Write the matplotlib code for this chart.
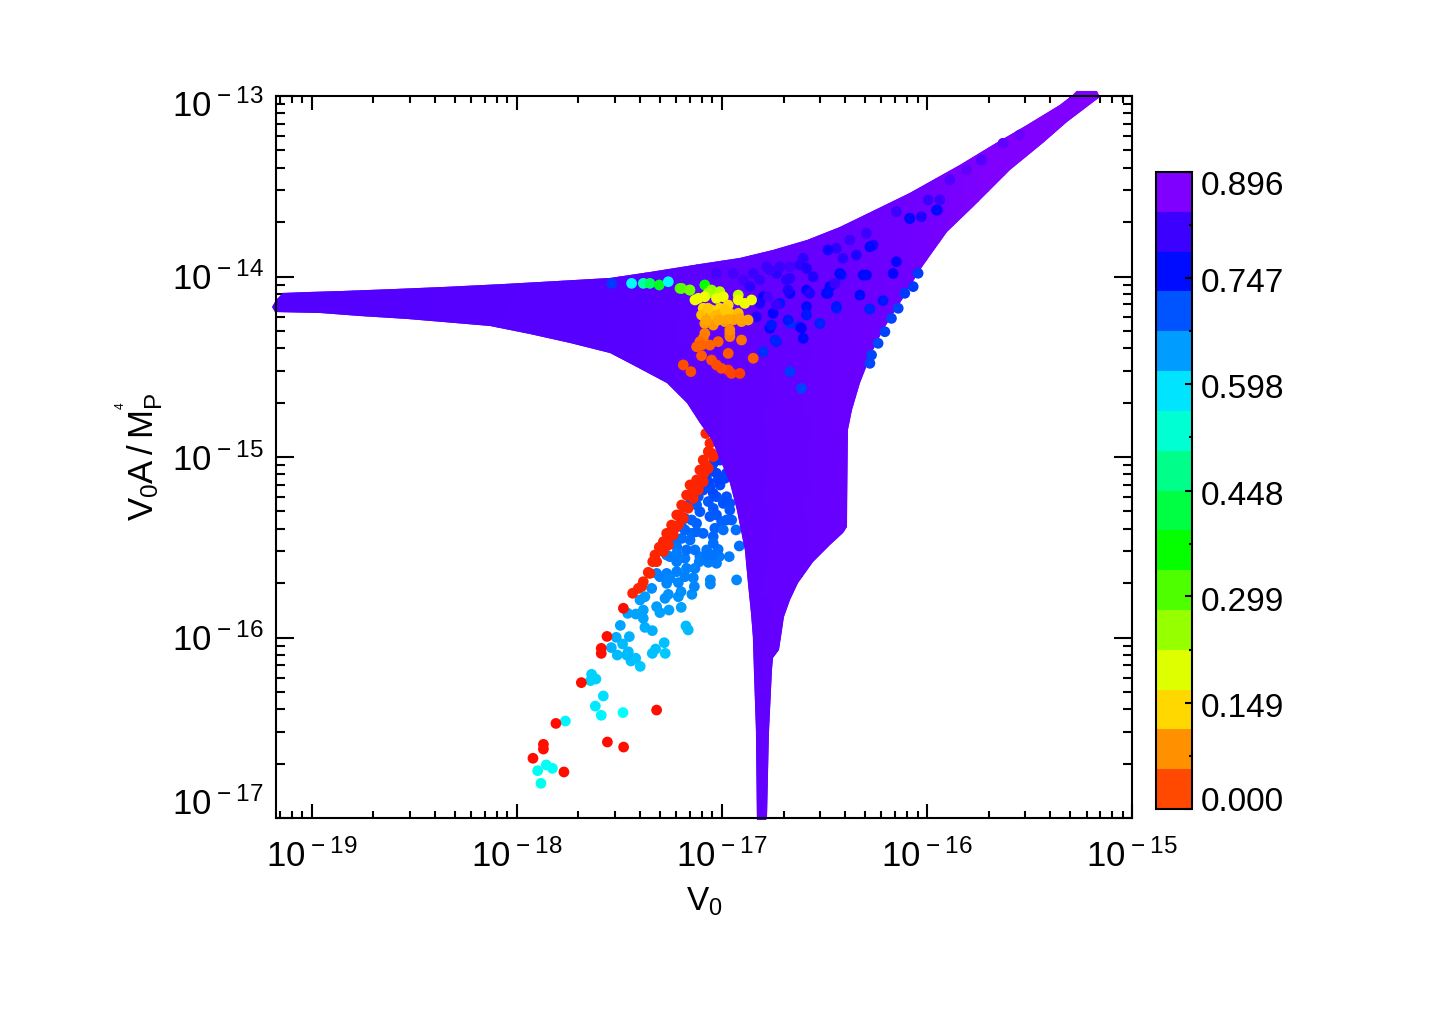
import colorsys
import numpy as np
import matplotlib
matplotlib.use("Agg")
import matplotlib.pyplot as plt
from matplotlib.colors import ListedColormap, BoundaryNorm, Normalize
from matplotlib.cm import ScalarMappable
from matplotlib.transforms import ScaledTranslation

plt.rcParams['font.family'] = ['Liberation Sans', 'DejaVu Sans']
plt.rcParams['mathtext.fontset'] = 'custom'
plt.rcParams['mathtext.rm'] = 'Liberation Sans'
plt.rcParams['mathtext.default'] = 'regular'

# all positions are log10 of the plotted quantity
# outline of the densely filled region
outline_x = [-19.192, -19.173, -19.139, -19.017, -18.847, -18.593, -18.359, -18.067, -17.804, -17.545,
             -17.350, -17.107, -16.912, -16.751, -16.585, -16.425, -16.264, -16.084, -15.840, -15.679,
             -15.513, -15.353, -15.289, -15.270, -15.172, -15.158,
             -15.318, -15.435, -15.596, -15.777, -15.903, -16.001, -16.035, -16.132, -16.215, -16.264,
             -16.327, -16.366, -16.386, -16.391, -16.410, -16.473, -16.556, -16.629, -16.668, -16.698,
             -16.712, -16.722, -16.751, -16.756, -16.771, -16.780, -16.785,
             -16.829, -16.834, -16.844, -16.849, -16.858, -16.873, -16.888, -16.927, -16.961, -17.048,
             -17.107, -17.170, -17.268, -17.433, -17.545, -17.740, -17.935, -18.130, -18.359, -18.535,
             -18.764, -18.959, -19.178]
outline_y = [-14.169, -14.130, -14.091, -14.086, -14.080, -14.069, -14.058, -14.042, -14.025, -14.008,
             -13.975, -13.931, -13.897, -13.853, -13.798, -13.726, -13.637, -13.537, -13.382, -13.271,
             -13.161, -13.050, -12.994, -12.972, -12.972, -13.006,
             -13.144, -13.260, -13.410, -13.615, -13.753, -13.909, -13.964, -14.147, -14.296, -14.407,
             -14.590, -14.740, -14.850, -15.388, -15.421, -15.487, -15.582, -15.698, -15.792, -15.886,
             -15.997, -16.069, -16.113, -16.180, -16.529, -17.000, -17.011,
             -17.011, -16.512, -16.180, -15.997, -15.864, -15.698, -15.515, -15.294, -15.144, -14.906,
             -14.812, -14.701, -14.590, -14.490, -14.424, -14.368, -14.319, -14.274, -14.252, -14.235,
             -14.219, -14.202, -14.197]
# value inside the filled region drifts slowly along the horizontal axis
fill_x = [-19.3, -17.5, -17.0, -16.4, -16.0, -15.7, -15.1]
fill_z = [0.858, 0.862, 0.870, 0.875, 0.885, 0.893, 0.897]
fill_y = [-17.1, -12.9]

red_x = [-17.318, -17.558, -17.479, -17.770, -17.921, -17.870, -17.870, -17.809, -17.685, -17.588,
         -17.588, -17.560, -17.480, -17.435, -17.407, -17.383, -17.359, -17.337, -17.326, -17.305,
         -17.285, -17.269, -17.245, -17.220, -17.196, -17.172, -17.155, -17.123, -17.107, -17.091,
         -17.066, -17.058, -17.253, -17.229, -17.204, -17.180, -17.142, -17.115, -17.087, -17.078,
         -17.048, -17.078,
         -17.391, -17.351, -17.318, -17.285, -17.261, -17.237, -17.212, -17.188, -17.164, -17.139,
         -17.115, -17.091, -17.066, -17.042]
red_y = [-16.402, -16.579, -16.607, -16.745, -16.669, -16.592, -16.618, -16.476, -16.250, -16.060,
         -16.088, -15.994, -15.838, -15.755, -15.728, -15.691, -15.639, -15.580, -15.543, -15.500,
         -15.469, -15.423, -15.377, -15.321, -15.266, -15.211, -15.155, -15.127, -15.072, -15.017,
         -14.970, -14.924, -15.441, -15.395, -15.321, -15.275, -15.192, -15.164, -15.090, -15.044,
         -14.980, -14.870,
         -15.718, -15.645, -15.580, -15.524, -15.488, -15.432, -15.377, -15.340, -15.284, -15.229,
         -15.183, -15.137, -15.063, -14.998]
red_z = [0.012] * 13 + [0.03] * 43

wedge_x = [-17.882, -17.898, -17.856, -17.826, -17.763, -17.588, -17.482, -17.617, -17.578, -17.635,
           -17.640, -17.614, -17.398, -17.443, -17.420, -17.464, -17.510, -17.484, -17.456, -17.539,
           -17.515, -17.451, -17.495, -17.375, -17.339, -17.339, -17.323, -17.276, -17.281, -17.175,
           -17.164, -17.459, -17.419, -17.383, -17.383, -17.399, -17.375, -17.318, -17.302, -17.258,
           -17.277, -17.261, -17.198, -17.212, -17.199, -17.146, -17.134, -17.139, -17.056, -17.056,
           -16.928, -17.342, -17.269, -17.212, -17.318, -17.269, -17.220, -17.172, -17.131, -17.110,
           -17.066, -17.026, -17.013, -16.964, -17.074, -17.018, -16.915, -17.180, -17.253, -17.220,
           -17.237, -17.196, -17.155, -17.147, -17.220, -17.042, -17.034, -17.001, -16.952, -16.931,
           -17.058, -17.155, -17.115, -17.066, -17.026, -16.977, -17.107, -17.058, -17.009, -16.961,
           -17.074, -17.026, -16.985, -17.042, -17.009, -16.977, -17.123, -17.180, -17.026, -17.123,
           -17.042,
           -17.034, -17.050, -17.018, -17.066, -17.091, -17.042, -16.993, -16.961, -17.107, -17.147,
           -17.180, -17.196, -17.091, -17.123, -16.993, -16.977, -17.042, -17.220, -17.269, -17.302,
           -17.253, -17.180, -17.107, -17.074, -17.042, -17.172, -17.131]
wedge_y = [-16.808, -16.738, -16.706, -16.725, -16.463, -16.431, -16.416, -16.380, -16.324, -16.204,
           -16.239, -16.230, -16.160, -16.130, -16.115, -16.097, -16.097, -16.036, -16.079, -16.056,
           -15.999, -15.995, -15.933, -15.944, -15.962, -16.088, -16.064, -16.088, -16.029, -15.936,
           -15.958, -15.866, -15.870, -15.894, -15.848, -15.792, -15.774, -15.829, -15.862, -15.848,
           -15.783, -15.761, -15.833, -15.774, -15.746, -15.761, -15.718, -15.669, -15.681, -15.704,
           -15.681, -15.728, -15.700, -15.696, -15.645, -15.645, -15.635, -15.617, -15.617, -15.580,
           -15.584, -15.589, -15.552, -15.552, -15.515, -15.512, -15.493, -15.561, -15.552, -15.580,
           -15.460, -15.451, -15.460, -15.423, -15.497, -15.441, -15.395, -15.358, -15.349, -15.404,
           -15.330, -15.257, -15.220, -15.247, -15.220, -15.220, -15.164, -15.164, -15.155, -15.257,
           -15.100, -15.090, -15.118, -15.035, -15.017, -15.090, -15.368, -15.404, -15.321, -15.266,
           -15.285,
           -14.998, -15.063, -15.127, -15.137, -15.183, -15.201, -15.257, -15.294, -15.303, -15.349,
           -15.340, -15.386, -15.423, -15.414, -15.404, -15.349, -15.478, -15.534, -15.543, -15.663,
           -15.672, -15.663, -15.552, -15.543, -15.543, -15.515, -15.515]
wedge_z = [0.582, 0.587, 0.59, 0.59, 0.605, 0.605, 0.598, 0.615, 0.62, 0.63,
           0.63, 0.63, 0.64, 0.645, 0.645, 0.65, 0.65, 0.65, 0.65, 0.655,
           0.66, 0.655, 0.665, 0.66, 0.66, 0.645, 0.645, 0.64, 0.645, 0.65,
           0.65, 0.67, 0.67, 0.665, 0.67, 0.675, 0.675, 0.675, 0.67, 0.67,
           0.68, 0.68, 0.67, 0.68, 0.685, 0.685, 0.69, 0.69, 0.69, 0.69,
           0.69, 0.685, 0.69, 0.69, 0.695, 0.695, 0.695, 0.695, 0.695, 0.7,
           0.7, 0.7, 0.7, 0.7, 0.705, 0.705, 0.71, 0.7, 0.7, 0.7,
           0.71, 0.71, 0.71, 0.71, 0.705, 0.715, 0.72, 0.72, 0.72, 0.71,
           0.725, 0.725, 0.73, 0.725, 0.73, 0.73, 0.735, 0.735, 0.735, 0.73,
           0.74, 0.74, 0.74, 0.745, 0.75, 0.74, 0.72, 0.715, 0.725, 0.725,
           0.725,
           0.75, 0.745, 0.74, 0.74, 0.735, 0.735, 0.73, 0.725, 0.725, 0.72,
           0.72, 0.715, 0.715, 0.715, 0.71, 0.72, 0.71, 0.7, 0.7, 0.695,
           0.69, 0.695, 0.7, 0.705, 0.705, 0.71, 0.705]

# low values near the top of the filled region
core_x = [-17.537, -17.440, -17.383, -17.351, -17.305, -17.261, -17.204, -17.156,
          -17.196, -17.156, -17.083, -17.050, -17.067, -17.010, -17.115, -17.083, -17.026, -16.920,
          -17.131, -16.993, -16.920, -16.888, -16.855, -17.091, -17.050, -17.010, -16.969, -17.099,
          -17.050, -17.002, -16.961, -16.920, -17.083, -17.042, -16.985, -16.945, -16.904, -16.872,
          -16.961, -17.083, -17.091, -17.107, -17.058, -17.018, -16.961, -16.904, -17.123, -17.099,
          -16.969, -17.050, -16.847, -17.026, -16.969, -16.953, -16.912, -17.151, -17.188, -17.002,
          -17.067, -16.985, -17.026, -17.075, -17.018, -16.969, -16.912, -17.099, -16.961]
core_y = [-14.038, -14.038, -14.038, -14.038, -14.047, -14.029, -14.066, -14.075,
          -14.066, -14.075, -14.047, -14.075, -14.093, -14.084, -14.121, -14.112, -14.121, -14.103,
          -14.130, -14.112, -14.130, -14.149, -14.130, -14.176, -14.186, -14.176, -14.158, -14.213,
          -14.223, -14.204, -14.204, -14.204, -14.260, -14.269, -14.250, -14.241, -14.250, -14.241,
          -14.315, -14.315, -14.343, -14.361, -14.380, -14.361, -14.333, -14.352, -14.389, -14.439,
          -14.426, -14.463, -14.453, -14.490, -14.518, -14.537, -14.537, -14.527, -14.490, -14.509,
          -14.176, -14.182, -14.213, -14.241, -14.241, -14.237, -14.232, -14.380, -14.296]
core_z = [0.75, 0.6, 0.53, 0.47, 0.42, 0.6, 0.35, 0.32,
          0.33, 0.31, 0.39, 0.29, 0.27, 0.26, 0.21, 0.21, 0.21, 0.25,
          0.21, 0.21, 0.21, 0.21, 0.21, 0.17, 0.17, 0.17, 0.17, 0.15,
          0.15, 0.15, 0.16, 0.15, 0.125, 0.12, 0.125, 0.125, 0.125, 0.13,
          0.105, 0.1, 0.095, 0.085, 0.08, 0.08, 0.1, 0.09, 0.08, 0.07,
          0.07, 0.065, 0.075, 0.06, 0.055, 0.055, 0.05, 0.06, 0.06, 0.06,
          0.16, 0.16, 0.145, 0.13, 0.13, 0.13, 0.13, 0.08, 0.11]

# bluer points in the right part of the filled region and along its edge
upper_x = [-16.043, -16.067, -16.108, -16.140, -16.173, -16.205, -16.238, -16.270, -16.278,
           -16.815, -16.733, -16.685, -16.620, -16.555, -16.668, -16.587, -16.490, -16.417, -16.449,
           -16.798, -16.717, -16.668, -16.620, -16.522, -16.278, -16.441, -16.750, -16.766, -16.741,
           -16.798, -16.668, -16.612, -16.603, -16.214, -16.327, -16.295, -16.165, -16.149, -16.782,
           -16.896, -16.587, -16.831, -16.945, -17.026,
           -15.994, -15.937, -15.946, -16.084, -16.149, -16.027, -16.295, -16.262, -16.376, -16.441,
           -16.482, -16.344, -16.409, -16.603, -16.668, -16.717, -16.587, -16.766, -16.425, -16.311,
           -16.473, -16.449, -16.668, -16.847, -16.863, -16.774, -16.677, -16.571, -16.733, -16.482,
           -16.441, -16.279, -16.587, -16.677, -16.522, -16.758, -16.733, -16.815, -16.612,
           -15.953, -16.083, -16.278, -15.734, -15.629, -15.547, -15.807, -15.888]
upper_y = [-13.982, -14.056, -14.093, -14.176, -14.232, -14.306, -14.370, -14.435, -14.481,
           -14.019, -13.983, -14.019, -13.936, -14.001, -14.093, -14.075, -14.093, -13.992, -14.038,
           -14.112, -14.149, -14.260, -14.278, -14.260, -14.182, -14.176, -14.204, -14.287, -14.352,
           -14.416, -14.527, -14.620, -14.343, -14.134, -14.103, -13.992, -13.983, -13.918, -13.946,
           -14.019, -14.167, -14.223, -13.983, -13.983,
           -13.576, -13.576, -13.632, -13.678, -13.641, -13.669, -13.761, -13.826, -13.798, -13.844,
           -13.853, -13.881, -13.899, -13.899, -13.946, -13.946, -13.955, -13.964, -13.983, -13.992,
           -14.056, -14.038, -14.010, -13.983, -14.056, -14.112, -14.075, -14.093, -14.158, -14.093,
           -14.167, -14.180, -14.213, -14.241, -14.260, -14.269, -14.361, -14.149, -14.287,
           -13.632, -13.678, -13.835, -13.355, -13.262, -13.216, -13.410, -13.465]
upper_z = [0.75, 0.75, 0.75, 0.745, 0.745, 0.745, 0.74, 0.74, 0.74,
           0.84, 0.83, 0.83, 0.83, 0.82, 0.8, 0.8, 0.79, 0.78, 0.81,
           0.8, 0.78, 0.76, 0.77, 0.76, 0.76, 0.77, 0.8, 0.79, 0.77,
           0.76, 0.75, 0.745, 0.79, 0.78, 0.79, 0.79, 0.8, 0.8, 0.84,
           0.85, 0.79, 0.82, 0.85, 0.85,
           0.84, 0.84, 0.84, 0.79, 0.84, 0.82, 0.84, 0.82, 0.84, 0.83,
           0.81, 0.82, 0.83, 0.83, 0.85, 0.84, 0.82, 0.84, 0.79, 0.79,
           0.79, 0.84, 0.83, 0.84, 0.83, 0.85, 0.82, 0.82, 0.84, 0.79,
           0.78, 0.77, 0.78, 0.78, 0.77, 0.78, 0.77, 0.82, 0.8,
           0.79, 0.79, 0.79, 0.86, 0.87, 0.875, 0.87, 0.86]

xlim = (6.7e-20, 1e-15)
ylim = (1e-17, 1e-13)
x_decades = [-19, -18, -17, -16, -15]
y_decades = [-17, -16, -15, -14, -13]
bar_ticks = [0.000, 0.149, 0.299, 0.448, 0.598, 0.747, 0.896]
bar_minor = [0.0747, 0.224, 0.373, 0.523, 0.672, 0.821]
bar_bands = 16

rainbow = ListedColormap([colorsys.hsv_to_rgb(h, 1, 1) for h in np.linspace(0, 0.75, 256)])
norm = Normalize(0, 0.896)

fig = plt.figure(figsize=(14.33, 10.24), dpi=100)
ax = fig.add_axes([276 / 1433, 1 - 818 / 1024, 856 / 1433, 722 / 1024])
ax.set_xscale('log')
ax.set_yscale('log')

size = 60
ax.scatter(10.0 ** np.array(wedge_x), 10.0 ** np.array(wedge_y), c=wedge_z, cmap=rainbow, norm=norm,
           s=size, linewidths=0, clip_on=False, zorder=1)
ax.scatter(10.0 ** np.array(red_x), 10.0 ** np.array(red_y), c=red_z, cmap=rainbow, norm=norm,
           s=size, linewidths=0, clip_on=False, zorder=1.5)
shape = ax.fill(10.0 ** np.array(outline_x), 10.0 ** np.array(outline_y), color=rainbow(norm(0.871)),
                linewidth=0, clip_on=False, zorder=2)[0]
mesh = ax.pcolormesh(10.0 ** np.array(fill_x), 10.0 ** np.array(fill_y), np.array([fill_z, fill_z]),
                     cmap=rainbow, norm=norm, shading='gouraud', zorder=2.1)
mesh.set_clip_path(shape)
mesh.set_clip_box(None)
ax.scatter(10.0 ** np.array(upper_x), 10.0 ** np.array(upper_y), c=upper_z, cmap=rainbow, norm=norm,
           s=size, linewidths=0, clip_on=False, zorder=3)
ax.scatter(10.0 ** np.array(core_x), 10.0 ** np.array(core_y), c=core_z, cmap=rainbow, norm=norm,
           s=size, linewidths=0, clip_on=False, zorder=4)

ax.set_xlim(xlim)
ax.set_ylim(ylim)

minor = [10.0 ** d * m for d in range(-20, -14) for m in range(2, 10)]
ax.set_xticks([10.0 ** d for d in x_decades])
ax.set_xticklabels(['$\\mathdefault{10^{\\hspace{0.04}%d}}$' % d for d in x_decades], fontsize=25)
ax.set_xticks([m for m in minor if xlim[0] <= m <= xlim[1]], minor=True)
ax.set_yticks([10.0 ** d for d in y_decades])
ax.set_yticklabels(['$\\mathdefault{10^{\\hspace{0.04}%d}}$' % d for d in y_decades], fontsize=25)
ax.set_yticks([10.0 ** d * m for d in range(-17, -13) for m in range(2, 10)], minor=True)
ax.tick_params(axis='x', which='major', direction='in', top=True, length=10, width=1.5, pad=15)
ax.tick_params(axis='x', which='minor', direction='in', top=True, length=5, width=1.5, labelbottom=False)
ax.tick_params(axis='y', which='major', direction='in', right=True, length=13, width=1.5, pad=9)
ax.tick_params(axis='y', which='minor', direction='in', right=True, length=6.5, width=1.5, labelleft=False)
for s in ax.spines.values():
    s.set_linewidth(1.5)
    s.set_zorder(5)

# end labels sit inside the axis range
ylabels = ax.get_yticklabels()
ylabels[0].set_transform(ylabels[0].get_transform() + ScaledTranslation(0, 12 / 72, fig.dpi_scale_trans))
ylabels[-1].set_transform(ylabels[-1].get_transform() + ScaledTranslation(0, -5 / 72, fig.dpi_scale_trans))

ax.set_xlabel('$\\mathdefault{V_0}$', fontsize=24, labelpad=9)
ax.set_ylabel('$\\mathdefault{V_0A\\,/\\,M_P^{{}^{{}^{4}}}}$', fontsize=25, labelpad=4)

# colour bar, stepped although the points are not
cax = fig.add_axes([1156 / 1433, 1 - 809 / 1024, 36 / 1433, 637 / 1024])
bounds = np.linspace(0, 0.896, bar_bands + 1)
band_cmap = ListedColormap([rainbow((i + 1) / bar_bands) for i in range(bar_bands)])
cb = fig.colorbar(ScalarMappable(BoundaryNorm(bounds, bar_bands), band_cmap), cax=cax, spacing='proportional')
cb.set_ticks(bar_ticks)
cb.set_ticklabels(['%.3f' % t for t in bar_ticks], fontsize=24)
cax.set_yticks(bar_minor, minor=True)
cax.tick_params(which='major', direction='in', length=5, width=1.5, pad=6)
cax.tick_params(which='minor', direction='in', length=2.5, width=1.5)
cb.outline.set_linewidth(1.5)
shifts = [7, -1.5, -1.5, -1.5, -1.5, -1.5, -8]
for label, shift in zip(cax.get_yticklabels(), shifts):
    label.set_transform(label.get_transform() + ScaledTranslation(0, shift / 72, fig.dpi_scale_trans))

fig.savefig('out.png', dpi=100)
